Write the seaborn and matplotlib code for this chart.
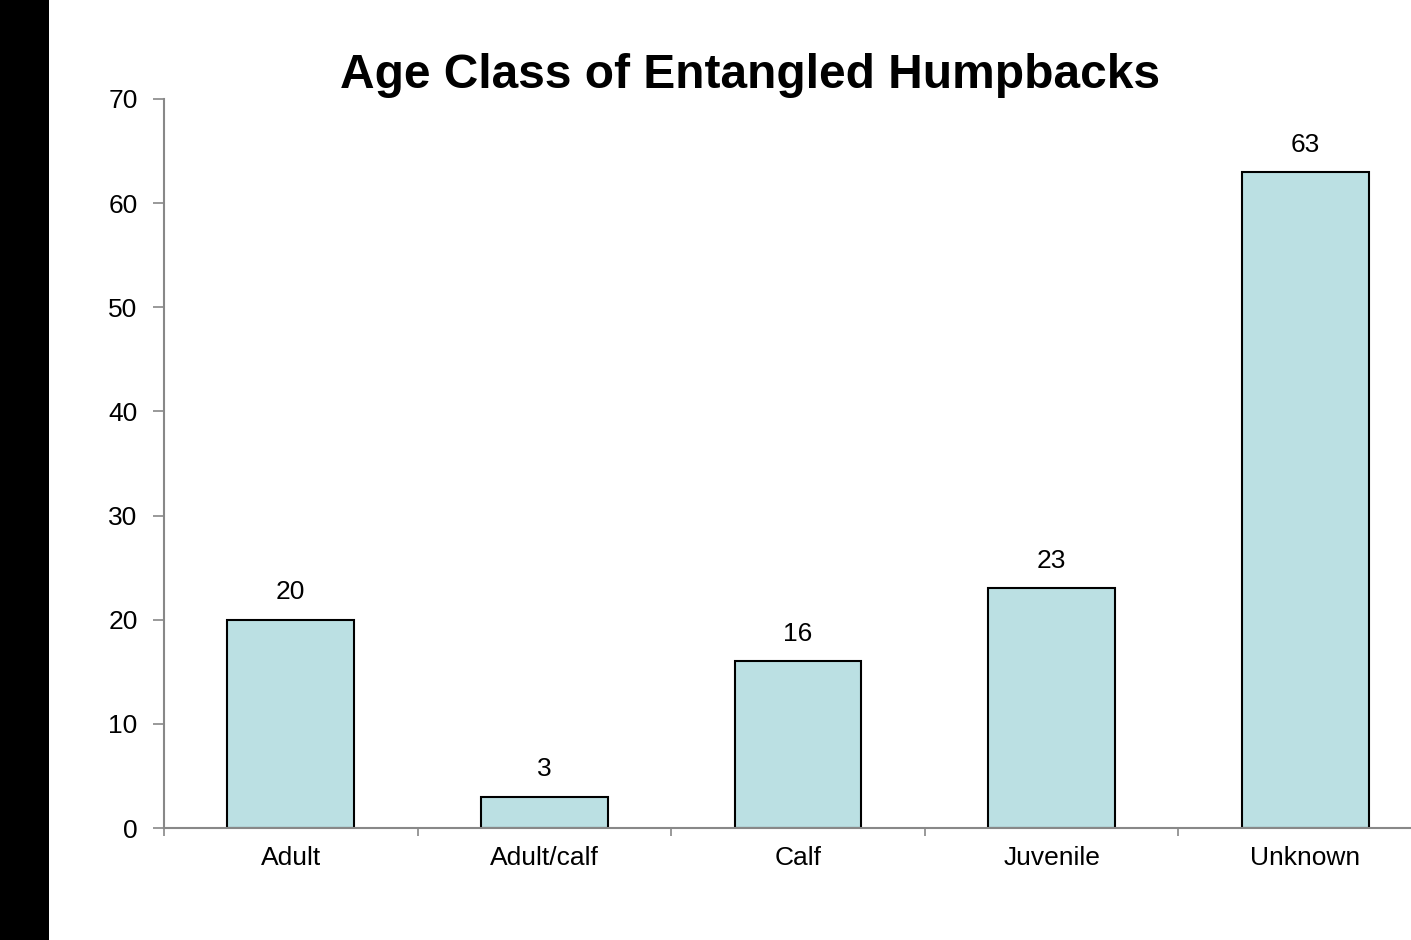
import matplotlib
matplotlib.use("Agg")
import matplotlib.pyplot as plt
import matplotlib.patches as mpatches
import seaborn as sns
import pandas as pd

categories = ["Adult", "Adult/calf", "Calf", "Juvenile", "Unknown"]
counts = [20, 3, 16, 23, 63]
title = "Age Class of Entangled Humpbacks"

sns.set_theme(style="white")
plt.rcParams["font.family"] = ["Liberation Sans", "DejaVu Sans"]

W, H = 1411, 940
fig = plt.figure(figsize=(W / 100, H / 100), dpi=100, facecolor="white")

# black strip along the left edge
fig.patches.append(mpatches.Rectangle((0, 0), 49 / W, 1, transform=fig.transFigure,
                                      facecolor="black", edgecolor="none", zorder=0))

ax = fig.add_axes([164 / W, (H - 828) / H, (1432 - 164) / W, (828 - 99) / H])
ax.set_facecolor("none")

df = pd.DataFrame({"category": categories, "count": counts})
sns.barplot(data=df, x="category", y="count", ax=ax, color="#BBE0E3",
            saturation=1, width=0.5, edgecolor="black", linewidth=1.5)

ax.set_xlim(-0.5, 4.5)
ax.set_ylim(0, 70)
ax.set_yticks(range(0, 71, 10))
ax.set_xticks([i - 0.5 for i in range(len(categories))], minor=False)
ax.set_xticklabels([])
ax.set_xticks(range(len(categories)), minor=True)
ax.set_xticklabels(categories, minor=True, fontsize=19, color="black")
ax.tick_params(axis="x", which="minor", length=0, pad=13)
ax.tick_params(axis="x", which="major", length=6, width=1.2, color="#888888",
               direction="out", bottom=True)
ax.tick_params(axis="y", length=8, width=1.2, color="#888888", direction="out",
               left=True, labelsize=19, labelcolor="black", pad=11)
ax.set_xlabel("")
ax.set_ylabel("")

for s in ["top", "right"]:
    ax.spines[s].set_visible(False)
for s in ["left", "bottom"]:
    ax.spines[s].set_color("#888888")
    ax.spines[s].set_linewidth(1.5)

for i, v in enumerate(counts):
    ax.annotate(f"{v}", (i, v), xytext=(0, 11), textcoords="offset points",
                ha="center", va="bottom", fontsize=19, color="black")

fig.text(750 / W, (H - 75) / H, title, ha="center", va="center",
         fontsize=34.5, fontweight="bold", color="black")

fig.savefig("out.png", dpi=100, facecolor="white")
